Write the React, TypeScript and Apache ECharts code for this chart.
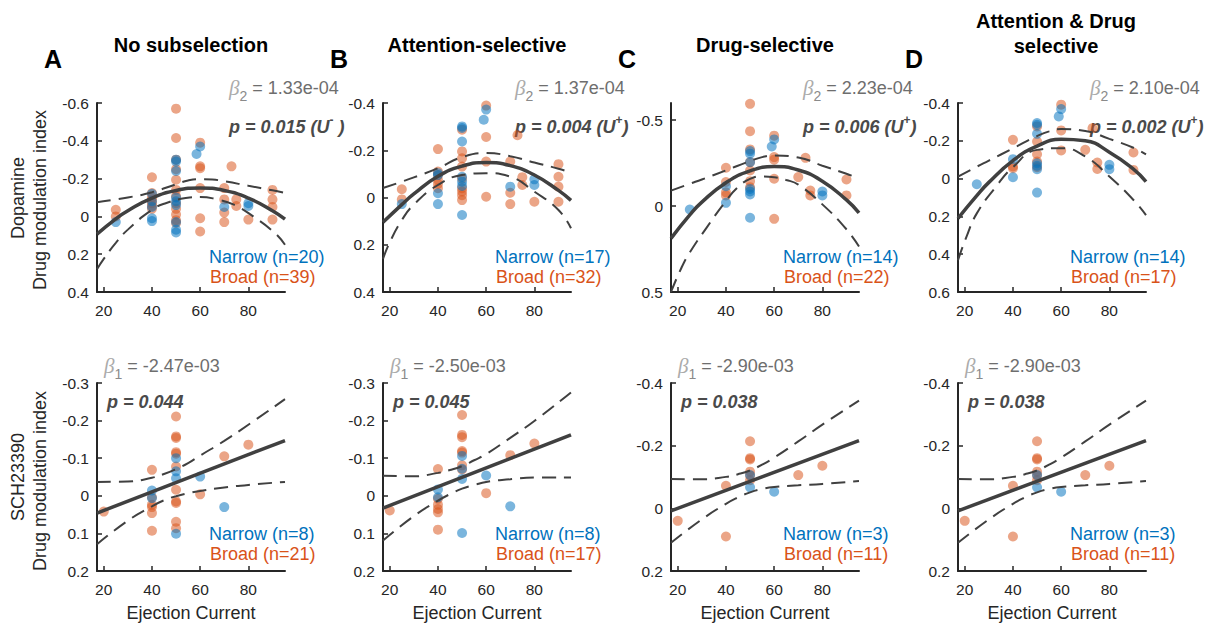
import React, { useEffect, useRef } from "react";
import * as echarts from "echarts";

type Pt = [number, number];

// ---------- DATA ----------
// Top row: Dopamine
const A1_BROAD: Pt[] = [
  [25, -0.035], [25, 0.0],
  [40, -0.207], [40, -0.124], [40, -0.1], [40, -0.085], [40, -0.07], [40, -0.055], [40, -0.04],
  [50, -0.57], [50, -0.415], [50, -0.3], [50, -0.25], [50, -0.194], [50, -0.14], [50, -0.106], [50, -0.07], [50, -0.04], [50, -0.01], [50, 0.02], [50, 0.035],
  [60, -0.39], [60, -0.265], [60, -0.255], [60, -0.15], [60, 0.01], [60, 0.08],
  [70, -0.15], [70, -0.09], [70, -0.02], [70, 0.03],
  [73, -0.265],
  [75, -0.09], [75, -0.055],
  [80, 0.017],
  [90, -0.14], [90, -0.09], [90, -0.05], [90, 0.017],
];
const A1_NARROW: Pt[] = [
  [25, 0.03],
  [40, -0.12], [40, -0.08], [40, -0.05], [40, 0.01], [40, 0.025],
  [50, -0.3], [50, -0.29], [50, -0.24], [50, -0.1], [50, -0.08], [50, -0.06], [50, 0.03], [50, 0.07], [50, 0.085],
  [58.5, -0.33], [60, -0.37],
  [70, -0.05],
  [80, -0.07], [80, -0.055],
];
const A1_FIT: Pt[] = [[17.2, 0.094], [25, 0.013], [30, -0.03], [40, -0.097], [50, -0.137], [60, -0.15], [70, -0.137], [80, -0.097], [90, -0.03], [95.2, 0.015]];
const A1_HI: Pt[] = [[17.2, -0.075], [30, -0.1], [40, -0.128], [50, -0.17], [55, -0.19], [60, -0.197], [65, -0.195], [70, -0.186], [80, -0.162], [90, -0.138], [95.2, -0.124]];
const A1_LO: Pt[] = [[17.2, 0.28], [20, 0.225], [25, 0.14], [30, 0.07], [40, -0.035], [46, -0.071], [54, -0.097], [60, -0.103], [67, -0.09], [74, -0.062], [82, 0.0], [91, 0.088], [95.2, 0.15]];

const B1_BROAD: Pt[] = [
  [25, -0.035], [25, 0.008],
  [40, -0.205], [40, -0.11], [40, -0.095], [40, -0.074], [40, -0.057], [40, -0.039],
  [50, -0.287], [50, -0.195], [50, -0.166], [50, -0.131], [50, -0.08], [50, -0.039], [50, -0.025], [50, -0.01], [50, 0.011],
  [60, -0.389], [60, -0.256], [60, -0.152], [60, -0.003],
  [70, -0.152], [70, -0.02], [70, 0.028],
  [73, -0.264],
  [75, -0.086], [75, -0.053],
  [80, 0.018],
  [90, -0.141], [90, -0.088], [90, -0.046], [90, 0.018],
];
const B1_NARROW: Pt[] = [
  [25, 0.028],
  [40, -0.103], [40, -0.095], [40, -0.018], [40, 0.028],
  [50, -0.301], [50, -0.294], [50, -0.237], [50, -0.088], [50, -0.067], [50, -0.049], [50, 0.074],
  [59, -0.329], [60, -0.372],
  [70, -0.046],
  [80, -0.077], [80, -0.053],
];
const B1_FIT: Pt[] = [[17.2, 0.105], [25, 0.03], [30, -0.015], [40, -0.09], [50, -0.133], [60, -0.148], [70, -0.135], [80, -0.095], [90, -0.03], [95.2, 0.012]];
const B1_HI: Pt[] = [[17.2, -0.04], [25, -0.067], [30, -0.085], [40, -0.124], [50, -0.171], [60, -0.188], [70, -0.175], [80, -0.148], [90, -0.122], [95.2, -0.104]];
const B1_LO: Pt[] = [[17.2, 0.26], [20, 0.19], [25, 0.096], [30, 0.03], [40, -0.053], [50, -0.095], [60, -0.103], [70, -0.088], [80, -0.025], [90, 0.053], [95.2, 0.13]];

const C1_BROAD: Pt[] = [
  [40, -0.223], [40, -0.14], [40, -0.08], [40, -0.062],
  [50, -0.595], [50, -0.436], [50, -0.33], [50, -0.256], [50, -0.207], [50, -0.145], [50, -0.11],
  [60, -0.41], [60, -0.285], [60, -0.27], [60, -0.159], [60, 0.074],
  [70, -0.169],
  [73, -0.281],
  [75, -0.091], [75, -0.062],
  [90, -0.155], [90, -0.062],
];
const C1_NARROW: Pt[] = [
  [25, 0.02],
  [40, -0.116], [40, -0.019],
  [50, -0.32], [50, -0.305], [50, -0.255], [50, -0.1], [50, -0.085], [50, -0.068], [50, 0.068],
  [59, -0.347], [60, -0.388],
  [80, -0.085], [80, -0.062],
];
const C1_FIT: Pt[] = [[17.2, 0.188], [25, 0.051], [30, -0.023], [40, -0.136], [50, -0.205], [60, -0.23], [70, -0.21], [80, -0.145], [90, -0.036], [95.2, 0.039]];
const C1_HI: Pt[] = [[17.2, -0.09], [25, -0.13], [30, -0.155], [40, -0.208], [50, -0.262], [55, -0.285], [60, -0.295], [70, -0.283], [80, -0.235], [90, -0.188], [95.2, -0.16]];
const C1_LO: Pt[] = [[17.2, 0.5], [21.5, 0.36], [25, 0.27], [32, 0.125], [40, -0.03], [45, -0.11], [50, -0.158], [55, -0.172], [60, -0.168], [65, -0.152], [70, -0.125], [80, -0.01], [90, 0.135], [95.2, 0.235]];

const D1_BROAD: Pt[] = [
  [40, -0.205], [40, -0.064], [40, -0.055],
  [50, -0.276], [50, -0.196], [50, -0.129], [50, -0.09], [50, -0.06],
  [60, -0.391], [60, -0.255], [60, -0.149],
  [70, -0.152],
  [73, -0.267],
  [75, -0.085], [75, -0.051],
  [90, -0.138], [90, -0.046],
];
const D1_NARROW: Pt[] = [
  [25, 0.03],
  [40, -0.103], [40, -0.007],
  [50, -0.294], [50, -0.285], [50, -0.237], [50, -0.081], [50, -0.068], [50, -0.05], [50, 0.074],
  [59, -0.329], [60, -0.368],
  [80, -0.073], [80, -0.05],
];
const D1_FIT: Pt[] = [[17.2, 0.21], [25, 0.09], [30, 0.02], [40, -0.095], [50, -0.172], [60, -0.208], [70, -0.2], [80, -0.14], [90, -0.05], [95.2, 0.016]];
const D1_HI: Pt[] = [[17.2, -0.011], [25, -0.063], [30, -0.095], [40, -0.16], [50, -0.225], [55, -0.25], [60, -0.262], [70, -0.252], [80, -0.21], [90, -0.163], [95.2, -0.128]];
const D1_LO: Pt[] = [[17.2, 0.432], [20.7, 0.308], [25, 0.184], [33, 0.042], [40, -0.06], [50, -0.152], [60, -0.161], [70, -0.117], [80, -0.011], [90, 0.113], [95.2, 0.193]];

// Bottom row: SCH23390
const A2_BROAD: Pt[] = [
  [20, 0.042],
  [40, -0.069], [40, 0.004], [40, 0.024], [40, 0.03], [40, 0.046], [40, 0.093],
  [50, -0.211], [50, -0.158], [50, -0.154], [50, -0.116], [50, -0.112], [50, -0.078], [50, -0.016], [50, 0.015], [50, 0.019], [50, 0.069], [50, 0.086],
  [60, -0.004], [70, -0.105], [80, -0.136],
];
const A2_NARROW: Pt[] = [
  [40, -0.014], [40, 0.006],
  [50, -0.1], [50, -0.065], [50, -0.047], [50, 0.101],
  [60, -0.051], [70, 0.03],
];
const A2_FIT: Pt[] = [[17.2, 0.046], [95.2, -0.147]];
const A2_HI: Pt[] = [[17.2, -0.037], [30, -0.038], [40, -0.048], [45, -0.058], [50, -0.071], [55, -0.087], [60, -0.107], [70, -0.146], [80, -0.189], [95.2, -0.257]];
const A2_LO: Pt[] = [[17.2, 0.129], [30, 0.066], [40, 0.028], [45, 0.012], [50, 0.001], [55, -0.007], [60, -0.013], [70, -0.022], [80, -0.029], [95.2, -0.037]];

const B2_BROAD: Pt[] = [
  [20, 0.039],
  [40, -0.071], [40, 0.008], [40, 0.024], [40, 0.035], [40, 0.044], [40, 0.09],
  [50, -0.215], [50, -0.162], [50, -0.156], [50, -0.119], [50, -0.115], [50, -0.081], [50, -0.07],
  [60, -0.007], [70, -0.108], [80, -0.139],
];
const B2_NARROW: Pt[] = [
  [40, -0.017], [40, 0.004],
  [50, -0.106], [50, -0.072], [50, -0.045], [50, 0.099],
  [60, -0.054], [70, 0.028],
];
const B2_FIT: Pt[] = [[17.2, 0.033], [95.2, -0.162]];
const B2_HI: Pt[] = [[17.2, -0.053], [30, -0.052], [40, -0.061], [45, -0.0685], [50, -0.079], [55, -0.0945], [60, -0.111], [70, -0.154], [80, -0.199], [95.2, -0.275]];
const B2_LO: Pt[] = [[17.2, 0.119], [30, 0.054], [40, 0.013], [45, -0.0045], [50, -0.019], [55, -0.0285], [60, -0.037], [70, -0.044], [80, -0.049], [95.2, -0.049]];

const C2_BROAD: Pt[] = [
  [20, 0.04],
  [40, -0.072], [40, 0.09],
  [50, -0.214], [50, -0.16], [50, -0.156], [50, -0.117], [50, -0.105], [50, -0.09],
  [70, -0.106], [80, -0.136],
];
const C2_NARROW: Pt[] = [[50, -0.106], [50, -0.067], [60, -0.053]];
const C2_FIT: Pt[] = [[17.2, 0.008], [95.2, -0.216]];
const C2_HI: Pt[] = [[17.2, -0.094], [30, -0.0927], [40, -0.1004], [45, -0.1088], [50, -0.1211], [55, -0.1395], [60, -0.1618], [70, -0.2135], [80, -0.267], [95.2, -0.344]];
const C2_LO: Pt[] = [[17.2, 0.11], [30, 0.0353], [40, -0.0144], [45, -0.0348], [50, -0.0511], [55, -0.0615], [60, -0.0678], [70, -0.0735], [80, -0.078], [95.2, -0.087]];

const D2_BROAD: Pt[] = C2_BROAD;
const D2_NARROW: Pt[] = C2_NARROW;
const D2_FIT: Pt[] = C2_FIT;
const D2_HI: Pt[] = C2_HI;
const D2_LO: Pt[] = C2_LO;

const X_TICKS = [20, 40, 60, 80];
const Y_RANGES: Pt[] = [[-0.6, 0.4], [-0.4, 0.4], [-0.6, 0.5], [-0.4, 0.6], [-0.3, 0.2], [-0.3, 0.2], [-0.4, 0.2], [-0.4, 0.2]];
const Y_TICKS: number[][] = [
  [-0.6, -0.4, -0.2, 0, 0.2, 0.4], [-0.4, -0.2, 0, 0.2, 0.4], [-0.5, 0, 0.5], [-0.4, -0.2, 0, 0.2, 0.4, 0.6],
  [-0.3, -0.2, -0.1, 0, 0.1, 0.2], [-0.3, -0.2, -0.1, 0, 0.1, 0.2], [-0.4, -0.2, 0, 0.2], [-0.4, -0.2, 0, 0.2],
];
const TITLES = ["No subselection", "Attention-selective", "Drug-selective", "Attention & Drug\nselective"];
const LETTERS = ["A", "B", "C", "D"];
const BETA2 = ["1.33e-04", "1.37e-04", "2.23e-04", "2.10e-04"];
const P_TOP = ["0.015", "0.004", "0.006", "0.002"];
const SIGN_TOP = ["-", "+", "+", "+"];
const BETA1 = ["-2.47e-03", "-2.50e-03", "-2.90e-03", "-2.90e-03"];
const P_BOT = ["0.044", "0.045", "0.038", "0.038"];
const N_NARROW = [20, 17, 14, 14, 8, 8, 3, 3];
const N_BROAD = [39, 32, 22, 17, 21, 17, 11, 11];

const PANELS = [
  { broad: A1_BROAD, narrow: A1_NARROW, fit: A1_FIT, hi: A1_HI, lo: A1_LO },
  { broad: B1_BROAD, narrow: B1_NARROW, fit: B1_FIT, hi: B1_HI, lo: B1_LO },
  { broad: C1_BROAD, narrow: C1_NARROW, fit: C1_FIT, hi: C1_HI, lo: C1_LO },
  { broad: D1_BROAD, narrow: D1_NARROW, fit: D1_FIT, hi: D1_HI, lo: D1_LO },
  { broad: A2_BROAD, narrow: A2_NARROW, fit: A2_FIT, hi: A2_HI, lo: A2_LO },
  { broad: B2_BROAD, narrow: B2_NARROW, fit: B2_FIT, hi: B2_HI, lo: B2_LO },
  { broad: C2_BROAD, narrow: C2_NARROW, fit: C2_FIT, hi: C2_HI, lo: C2_LO },
  { broad: D2_BROAD, narrow: D2_NARROW, fit: D2_FIT, hi: D2_HI, lo: D2_LO },
];

// ---------- LAYOUT / STYLE ----------
const FONT = "'Liberation Sans', Arial, Helvetica, sans-serif";
const SERIF = "'Liberation Serif', 'Times New Roman', serif";
const BLUE = "#0072BD";
const ORANGE = "#D95319";
const FITC = "#404040";
const AXC = "#262626";
const AX_LEFT = [97, 383, 671, 958];
const AX_W = 188;
const ROW_TOP = [103, 383];
const ROW_H = [189, 188];
const X_MIN = 17.2;
const X_MAX = 95.2;

function txt(x: number, y: number, text: string, o: any = {}) {
  return {
    type: "text",
    x,
    y,
    rotation: o.rotation || 0,
    silent: true,
    style: {
      text,
      fill: o.fill || "#000",
      fontSize: o.fontSize || 18,
      fontFamily: o.fontFamily || FONT,
      fontWeight: o.fontWeight || "normal",
      fontStyle: o.fontStyle || "normal",
      align: o.align || "left",
      verticalAlign: "middle",
      textAlign: o.align || "left",
      textVerticalAlign: "middle",
      lineHeight: o.lineHeight,
    },
  };
}

function richBeta(x: number, y: number, sub: string, val: string) {
  return {
    type: "text",
    x,
    y,
    silent: true,
    style: {
      text: `{b|β}{s|${sub}}{t| = ${val}}`,
      align: "left",
      verticalAlign: "middle",
      textAlign: "left",
      textVerticalAlign: "middle",
      rich: {
        b: { fontFamily: SERIF, fontStyle: "italic", fontSize: 21, fill: "#ababab", color: "#ababab", lineHeight: 30, verticalAlign: "middle" },
        s: { fontFamily: FONT, fontSize: 14, fill: "#8a8a8a", color: "#8a8a8a", lineHeight: 15, verticalAlign: "bottom" },
        t: { fontFamily: FONT, fontSize: 18, fill: "#6e6e6e", color: "#6e6e6e", lineHeight: 30, verticalAlign: "middle" },
      },
    },
  };
}

function richP(x: number, y: number, val: string, sign: string) {
  const text = `{p|p = ${val} (U}{u|${sign}}{p|${sign === "-" ? " )" : ")"}}`;
  return {
    type: "text",
    x,
    y,
    silent: true,
    style: {
      text,
      align: "left",
      verticalAlign: "middle",
      textAlign: "left",
      textVerticalAlign: "middle",
      rich: {
        p: { fontFamily: FONT, fontWeight: "bold", fontStyle: "italic", fontSize: 18, fill: "#4a4a4a", color: "#4a4a4a", lineHeight: 26, verticalAlign: "middle" },
        u: { fontFamily: FONT, fontWeight: "bold", fontSize: 12, fill: "#4a4a4a", color: "#4a4a4a", lineHeight: 13, verticalAlign: "top" },
      },
    },
  };
}

function buildOption() {
  const grid: any[] = [];
  const xAxis: any[] = [];
  const yAxis: any[] = [];
  const series: any[] = [];
  const graphic: any[] = [];

  PANELS.forEach((p, i) => {
    const row = Math.floor(i / 4);
    const col = i % 4;
    grid.push({ left: AX_LEFT[col], top: ROW_TOP[row], width: AX_W, height: ROW_H[row], containLabel: false });
    xAxis.push({
      type: "value",
      gridIndex: i,
      min: X_MIN,
      max: X_MAX,
      axisLine: { show: true, onZero: false, lineStyle: { color: AXC, width: 2 } },
      axisTick: { show: true, inside: true, length: 5, customValues: X_TICKS, lineStyle: { color: AXC, width: 1.5 } },
      axisLabel: { show: true, customValues: X_TICKS, fontSize: 15.5, fontFamily: FONT, color: AXC, margin: 10 },
      splitLine: { show: false },
    });
    yAxis.push({
      type: "value",
      gridIndex: i,
      inverse: true,
      min: Y_RANGES[i][0],
      max: Y_RANGES[i][1],
      axisLine: { show: true, onZero: false, lineStyle: { color: AXC, width: 2 } },
      axisTick: { show: true, inside: true, length: 5, customValues: Y_TICKS[i], lineStyle: { color: AXC, width: 1.5 } },
      axisLabel: { show: true, customValues: Y_TICKS[i], fontSize: 15.5, fontFamily: FONT, color: AXC, margin: 8 },
      splitLine: { show: false },
    });
    const common = { xAxisIndex: i, yAxisIndex: i, silent: true, animation: false };
    series.push({ ...common, type: "scatter", data: p.broad, symbol: "circle", symbolSize: 10, itemStyle: { color: ORANGE, opacity: 0.52 }, z: 2 });
    series.push({ ...common, type: "scatter", data: p.narrow, symbol: "circle", symbolSize: 10, itemStyle: { color: BLUE, opacity: 0.52 }, z: 3 });
    const smooth = 0.5;
    series.push({ ...common, type: "line", data: p.hi, smooth, symbol: "none", lineStyle: { color: FITC, width: 2, type: [14, 8] }, z: 4 });
    series.push({ ...common, type: "line", data: p.lo, smooth, symbol: "none", lineStyle: { color: FITC, width: 2, type: [14, 8] }, z: 4 });
    series.push({ ...common, type: "line", data: p.fit, smooth, symbol: "none", lineStyle: { color: FITC, width: 3.5 }, z: 5 });

    const left = AX_LEFT[col];
    if (row === 0) {
      graphic.push(richBeta(left + 132, 88, "2", BETA2[col]));
      graphic.push(richP(left + 132, 127, P_TOP[col], SIGN_TOP[col]));
      graphic.push(txt(left + 112, 257, `Narrow (n=${N_NARROW[i]})`, { fill: BLUE }));
      graphic.push(txt(left + 113, 277, `Broad (n=${N_BROAD[i]})`, { fill: ORANGE }));
    } else {
      graphic.push(richBeta(left + 7, 366, "1", BETA1[col]));
      graphic.push(txt(left + 10, 402, `p = ${P_BOT[col]}`, { fill: "#4a4a4a", fontWeight: "bold", fontStyle: "italic", fontSize: 18 }));
      graphic.push(txt(left + 112, 534, `Narrow (n=${N_NARROW[i]})`, { fill: BLUE }));
      graphic.push(txt(left + 113, 554, `Broad (n=${N_BROAD[i]})`, { fill: ORANGE }));
      graphic.push(txt(left + AX_W / 2, 613, "Ejection Current", { align: "center", fill: AXC }));
    }
  });

  // titles & panel letters
  for (let c = 0; c < 4; c++) {
    const cx = AX_LEFT[c] + AX_W / 2;
    if (c === 3) {
      graphic.push(txt(cx + 4, 33, TITLES[c], { align: "center", fontWeight: "bold", fontSize: 20, lineHeight: 25 }));
    } else {
      graphic.push(txt(cx, 45, TITLES[c], { align: "center", fontWeight: "bold", fontSize: 20 }));
    }
    graphic.push(txt(AX_LEFT[c] - 44, 59, LETTERS[c], { align: "center", fontWeight: "bold", fontSize: 25 }));
  }

  // y axis names
  graphic.push(txt(18, 198, "Dopamine", { align: "center", rotation: Math.PI / 2, fill: AXC }));
  graphic.push(txt(40, 200, "Drug modulation index", { align: "center", rotation: Math.PI / 2, fill: AXC }));
  graphic.push(txt(18, 477, "SCH23390", { align: "center", rotation: Math.PI / 2, fill: AXC }));
  graphic.push(txt(40, 481, "Drug modulation index", { align: "center", rotation: Math.PI / 2, fill: AXC }));

  return {
    animation: false,
    backgroundColor: "#ffffff",
    grid,
    xAxis,
    yAxis,
    series,
    graphic,
  };
}

export default function App() {
  const ref = useRef<HTMLDivElement>(null);
  useEffect(() => {
    if (!ref.current) return;
    const chart = echarts.init(ref.current, undefined, { renderer: "svg" });
    chart.setOption(buildOption() as any);
    return () => chart.dispose();
  }, []);
  return (
    <div
      ref={ref}
      style={{ position: "absolute", left: 0, top: 0, width: 1221, height: 625, background: "#fff" }}
    />
  );
}
